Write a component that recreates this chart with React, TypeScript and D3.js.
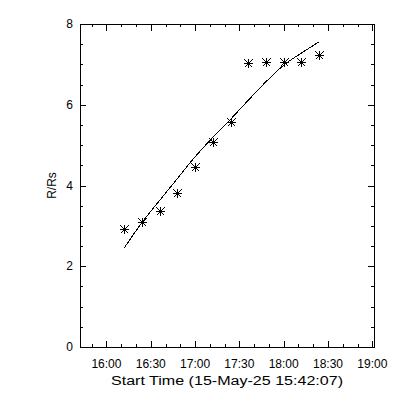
import { useEffect, useRef } from "react";
import * as d3 from "d3";

// observation times (UT) and measured heights in solar radii
const startTime = "2025-05-15 15:42:07";
const endTime = "2025-05-15 19:01:07";
const times = ["16:12", "16:24", "16:36", "16:48", "17:00", "17:12", "17:24", "17:36", "17:48", "18:00", "18:12", "18:24"];
const heights = [2.92, 3.09, 3.38, 3.82, 4.45, 5.07, 5.57, 7.03, 7.05, 7.05, 7.05, 7.23];
// fitted curve, read at the same times
const fitHeights = [2.45, 3.08, 3.63, 4.17, 4.71, 5.19, 5.64, 6.11, 6.57, 6.98, 7.28, 7.56];
const yTicks = [0, 2, 4, 6, 8];
const xTitle = "Start Time (15-May-25 15:42:07)";
const yTitle = "R/Rs";

const App = () => {
    const container = useRef<SVGSVGElement>(null);

    useEffect(() => {
        const svgEl = container.current;
        if (!svgEl) return;
        svgEl.innerHTML = "";

        const margin = { top: 24, right: 26, bottom: 53, left: 80 };
        const W = 400, H = 400;
        const width = W - margin.left - margin.right;
        const height = H - margin.top - margin.bottom;

        const parse = d3.utcParse("%Y-%m-%d %H:%M:%S");
        const t0 = parse(startTime) as Date;
        const t1 = parse(endTime) as Date;
        const day = "2025-05-15 ";
        const pts = times.map((t, i) => ({
            t: parse(day + t + ":00") as Date,
            r: heights[i],
            f: fitHeights[i],
        }));

        const svg = d3.select(svgEl);
        svg.append("rect").attr("width", W).attr("height", H).attr("fill", "#fff");

        const g = svg.append("g").attr("transform", `translate(${margin.left},${margin.top})`);

        const x = d3.scaleUtc().domain([t0, t1]).range([0, width]);
        const y = d3.scaleLinear().domain([0, 8]).range([height, 0]);

        const font = "'Liberation Sans', Arial, sans-serif";
        const majX = d3.utcMinute.every(30)!.range(t0, t1);
        const minX = d3.utcMinute.every(10)!.range(t0, t1);
        const minY = d3.range(0, 8.01, 0.5);
        const xLen = 6.5, yLen = 6;

        const marks = g.append("g").attr("shape-rendering", "crispEdges");

        // frame
        marks.append("rect")
            .attr("x", 0.5).attr("y", 0.5)
            .attr("width", width).attr("height", height)
            .attr("fill", "none").attr("stroke", "#000").attr("stroke-width", 1);

        // x ticks on bottom and top
        minX.forEach((d) => {
            const isMaj = majX.some((m) => +m === +d);
            const len = isMaj ? xLen : xLen / 2;
            const px = Math.round(x(d)) + 0.5;
            marks.append("line").attr("x1", px).attr("x2", px).attr("y1", height).attr("y2", height - len).attr("stroke", "#000");
            marks.append("line").attr("x1", px).attr("x2", px).attr("y1", 0).attr("y2", len).attr("stroke", "#000");
        });

        // y ticks on left and right
        minY.forEach((v) => {
            const isMaj = v % 2 === 0;
            const len = isMaj ? yLen : yLen / 2;
            const py = Math.round(y(v)) + 0.5;
            marks.append("line").attr("x1", 0).attr("x2", len).attr("y1", py).attr("y2", py).attr("stroke", "#000");
            marks.append("line").attr("x1", width).attr("x2", width - len).attr("y1", py).attr("y2", py).attr("stroke", "#000");
        });

        // tick labels
        const fmt = d3.utcFormat("%H:%M");
        g.selectAll(".xlab").data(majX).join("text")
            .attr("x", (d) => x(d)).attr("y", height + 21)
            .attr("text-anchor", "middle")
            .style("font-family", font).style("font-size", "12px")
            .text((d) => fmt(d));

        g.selectAll(".ylab").data(yTicks).join("text")
            .attr("x", -7).attr("y", (d) => y(d))
            .attr("dy", "0.35em")
            .attr("text-anchor", "end")
            .style("font-family", font).style("font-size", "12px")
            .text((d) => d);

        // axis titles
        g.append("text")
            .attr("x", width / 2).attr("y", height + 38)
            .attr("text-anchor", "middle")
            .attr("textLength", 232).attr("lengthAdjust", "spacingAndGlyphs")
            .style("font-family", font).style("font-size", "12.5px")
            .text(xTitle);

        g.append("text")
            .attr("transform", `translate(-24,${height / 2}) rotate(-90)`)
            .attr("text-anchor", "middle")
            .style("font-family", font).style("font-size", "12px")
            .text(yTitle);

        // fitted curve
        const line = d3.line<{ t: Date; f: number }>()
            .x((d) => x(d.t))
            .y((d) => y(d.f))
            .curve(d3.curveMonotoneX);
        marks.append("path")
            .datum(pts)
            .attr("d", line)
            .attr("fill", "none").attr("stroke", "#000").attr("stroke-width", 1);

        // asterisks
        const s = 4.5, dg = 4;
        const star = `M${-s},0L${s},0M0,${-s}L0,${s}M${-dg},${-dg}L${dg},${dg}M${-dg},${dg}L${dg},${-dg}`;
        marks.selectAll(".star").data(pts).join("path")
            .attr("transform", (d) => `translate(${Math.round(x(d.t)) + 0.5},${Math.round(y(d.r)) + 0.5})`)
            .attr("d", star)
            .attr("fill", "none").attr("stroke", "#000").attr("stroke-width", 1);
    }, []);

    return (
        <svg
            ref={container}
            width={400}
            height={400}
            style={{ position: "absolute", left: 0, top: 0 }}
        ></svg>
    );
};

export default App;
